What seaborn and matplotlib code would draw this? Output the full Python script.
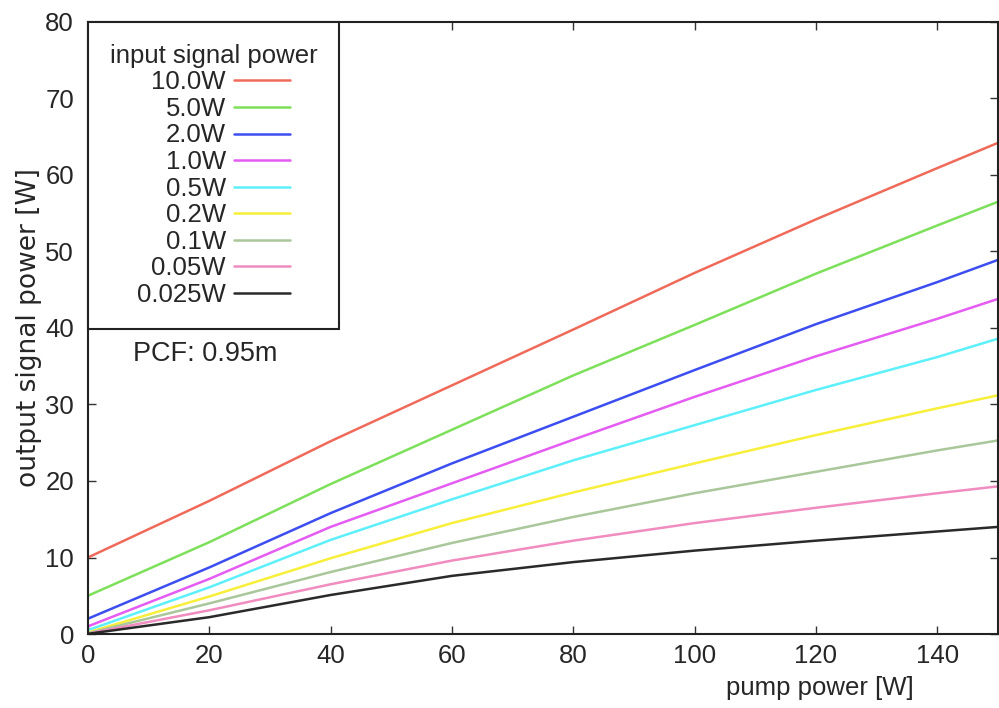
import matplotlib
matplotlib.use("Agg")
import matplotlib.pyplot as plt
import seaborn as sns
import pandas as pd

pump = [0, 20, 40, 60, 80, 100, 120, 140, 150]
labels = ["10.0W", "5.0W", "2.0W", "1.0W", "0.5W", "0.2W", "0.1W", "0.05W", "0.025W"]
s_10 = [10.0, 17.4, 25.2, 32.5, 39.8, 47.2, 54.2, 60.9, 64.2]
s_5 = [5.0, 12.0, 19.6, 26.7, 33.8, 40.4, 47.1, 53.4, 56.5]
s_2 = [2.0, 8.7, 15.8, 22.3, 28.4, 34.5, 40.5, 46.0, 48.9]
s_1 = [1.0, 7.2, 14.0, 19.7, 25.4, 31.0, 36.3, 41.2, 43.8]
s_05 = [0.5, 6.1, 12.3, 17.6, 22.7, 27.3, 31.9, 36.2, 38.6]
s_02 = [0.2, 4.9, 9.9, 14.5, 18.5, 22.3, 26.0, 29.5, 31.2]
s_01 = [0.1, 4.0, 8.1, 11.9, 15.3, 18.4, 21.2, 24.0, 25.3]
s_005 = [0.05, 3.1, 6.5, 9.6, 12.2, 14.5, 16.5, 18.4, 19.3]
s_0025 = [0.025, 2.2, 5.1, 7.6, 9.4, 10.9, 12.2, 13.4, 14.0]
series = [s_10, s_5, s_2, s_1, s_05, s_02, s_01, s_005, s_0025]
colors = ["#f06a5a", "#7de05a", "#3c4ef0", "#e45cf2", "#5ef0fa",
          "#f7ef3a", "#a9c79a", "#f08cc0", "#2a2a2a"]

sns.set_style("ticks")
plt.rcParams["font.family"] = ["Liberation Sans", "DejaVu Sans"]

FS = 18.5
fig = plt.figure(figsize=(9.99, 7.08), dpi=100)
ax = fig.add_axes([0.088, 0.1045, 0.911, 0.8645])

for lab, vals, col in zip(labels, series, colors):
    df = pd.DataFrame({"pump": pump, "out": vals})
    sns.lineplot(data=df, x="pump", y="out", color=col, linewidth=1.8,
                 label=lab, ax=ax, legend=False)

ax.set_xlim(0, 150)
ax.set_ylim(0, 80)
ax.set_xticks(range(0, 141, 20))
ax.set_yticks(range(0, 81, 10))
ax.tick_params(direction="in", length=6, width=1.0, labelsize=FS,
               top=True, right=True, color="#333333")
ax.tick_params(axis="y", pad=10)
ax.tick_params(axis="x", pad=7)
for sp in ax.spines.values():
    sp.set_visible(True)
    sp.set_linewidth(1.5)
    sp.set_color("#222222")

ax.set_xlabel("pump power [W]", fontsize=FS)
ax.set_ylabel("output signal power [W]", fontsize=19, family=["DejaVu Sans"])
ax.xaxis.set_label_coords(0.804, -0.068)
ax.yaxis.set_label_coords(-0.05, 0.5)

h, l = ax.get_legend_handles_labels()
leg = ax.legend(h, l, title="input signal power", loc="upper left",
                bbox_to_anchor=(0, 1), borderaxespad=0, fontsize=FS,
                title_fontsize=FS, markerfirst=False, fancybox=False,
                frameon=True, framealpha=1, edgecolor="#222222",
                handlelength=2.2, handletextpad=0.3, labelspacing=0.1,
                borderpad=0.85)
leg.get_frame().set_linewidth(1.5)

ax.text(7.4, 36.6, "PCF: 0.95m", fontsize=19.5, va="center", ha="left")

fig.savefig("out.png", dpi=100)
